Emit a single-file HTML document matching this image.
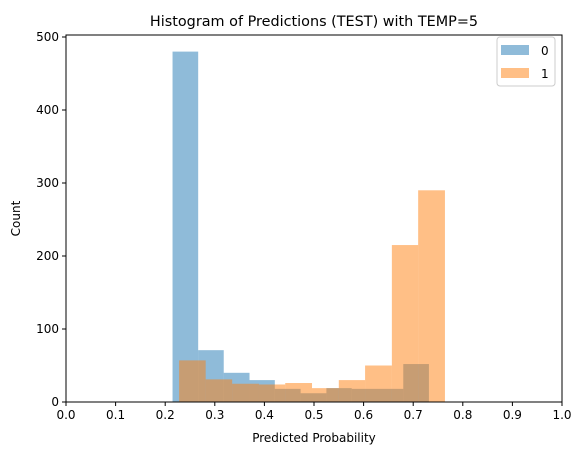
<!DOCTYPE html>
<html><head><meta charset="utf-8"><style>
body{margin:0;background:#fff;font-family:"Liberation Sans","DejaVu Sans",sans-serif}
svg text{font-family:"DejaVu Sans","Liberation Sans",sans-serif}
</style></head><body>
<svg id="chart" width="582" height="455">
<rect width="582" height="455" fill="#fff"/>
<g id="bars"></g>
<g id="axes"></g>
</svg>
<script>
const edges0 = [0.2148,0.2665,0.318,0.370,0.421,0.473,0.525,0.576,0.628,0.680,0.7317];
const counts0 = [480,71,40,30,18,12,19,18,18,52];
const edges1 = [0.228,0.2816,0.335,0.389,0.442,0.496,0.550,0.603,0.657,0.710,0.764];
const counts1 = [57,31,25,24,26,19,30,50,215,290];
const xTicks = [0,0.1,0.2,0.3,0.4,0.5,0.6,0.7,0.8,0.9,1.0];
const yTicks = [0,100,200,300,400,500];
const seriesLabels = ["0","1"];

const L=66,R=562,T=35,B=402;
const sx=v=>L+v*(R-L);
const sy=v=>B-v*0.73;
const NS="http://www.w3.org/2000/svg";
function mk(tag,attrs,parent){const e=document.createElementNS(NS,tag);for(const k in attrs)e.setAttribute(k,attrs[k]);parent.appendChild(e);return e;}
const bars=document.getElementById('bars'),axes=document.getElementById('axes');
function drawSeries(edges,counts,color,name){
  counts.forEach((c,i)=>{
    const r=mk('rect',{x:sx(edges[i]),y:sy(c),width:sx(edges[i+1])-sx(edges[i]),height:B-sy(c),fill:color,'fill-opacity':0.5},bars);
    
    
  });
}
drawSeries(edges0,counts0,'#1f77b4','class0');
drawSeries(edges1,counts1,'#ff7f0e','class1');
const frame=mk('rect',{x:L,y:T,width:R-L,height:B-T,fill:'none',stroke:'#000','stroke-width':1},axes);


xTicks.forEach(t=>{
  mk('line',{x1:sx(t),x2:sx(t),y1:B,y2:B+4,stroke:'#000'},axes);
  const tx=mk('text',{x:sx(t),y:B+17,'font-size':12,'text-anchor':'middle'},axes);
  tx.textContent=t.toFixed(1);
  
  
});
yTicks.forEach(t=>{
  mk('line',{x1:L-4,x2:L,y1:sy(t),y2:sy(t),stroke:'#000'},axes);
  const tx=mk('text',{x:L-7,y:sy(t)+4,'font-size':12,'text-anchor':'end'},axes);
  tx.textContent=t;
  
  
});
const xt=mk('text',{x:(L+R)/2,y:442,'font-size':12,'text-anchor':'middle'},axes);
xt.textContent='Predicted Probability';


const yt=mk('text',{x:20,y:(T+B)/2,'font-size':12,'text-anchor':'middle',transform:'rotate(-90 20 '+((T+B)/2)+')'},axes);
yt.textContent='Count';


const ti=mk('text',{x:(L+R)/2,y:26,'font-size':14.4,'text-anchor':'middle'},axes);
ti.textContent='Histogram of Predictions (TEST) with TEMP=5';


const lg=mk('g',{},axes);


mk('rect',{x:497,y:37,width:58,height:49,rx:3,fill:'#fff','fill-opacity':0.8,stroke:'#ccc'},lg);
['#1f77b4','#ff7f0e'].forEach((c,i)=>{
  const ent=mk('g',{},lg);
  
  
  mk('rect',{x:501,y:45+i*23,width:28,height:10,fill:c,'fill-opacity':0.5},ent);
  const t=mk('text',{x:541,y:55+i*23,'font-size':12},ent);
  t.textContent=seriesLabels[i];
});
</script>
</body></html>
